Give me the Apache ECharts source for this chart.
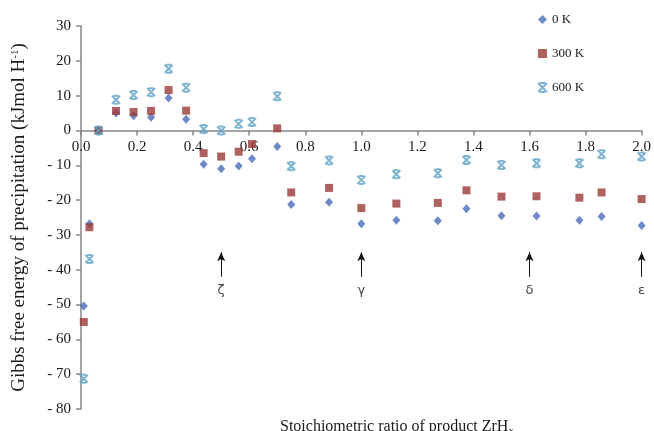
<!DOCTYPE html>
<html>
<head>
<meta charset="utf-8">
<script src="https://cdn.jsdelivr.net/npm/echarts@6/dist/echarts.min.js"></script>
<style>
  html, body { margin: 0; padding: 0; background: #ffffff; }
  #chart { width: 654px; height: 431px; }
</style>
</head>
<body>
<div id="chart"></div>
<script>
// Stoichiometric ratio x of the ZrHx product
const ratios = [0.01, 0.03, 0.0625, 0.125, 0.1875, 0.25, 0.3125, 0.375, 0.4375, 0.5,
  0.5625, 0.61, 0.7, 0.75, 0.885, 1.0, 1.125, 1.273, 1.375, 1.5, 1.625, 1.778, 1.857, 2.0];

// Gibbs free energy of precipitation (kJ/mol H) at each temperature
const g0K = [-50.4, -26.8, 0, 5.0, 4.2, 3.8, 9.3, 3.2, -9.7, -11.0,
  -10.2, -8.1, -4.6, -21.3, -20.6, -26.8, -25.8, -25.9, -22.5, -24.5, -24.6, -25.8, -24.7, -27.3];
const g300K = [-55.0, -27.8, 0, 5.6, 5.3, 5.6, 11.6, 5.7, -6.5, -7.5,
  -6.1, -3.9, 0.6, -17.8, -16.5, -22.3, -21.0, -20.8, -17.2, -19.0, -18.9, -19.3, -17.8, -19.7];
const g600K = [-71.3, -36.9, 0, 8.8, 10.2, 11.0, 17.7, 12.3, 0.4, 0,
  1.9, 2.4, 9.8, -10.3, -8.6, -14.2, -12.6, -12.3, -8.5, -9.9, -9.4, -9.4, -6.8, -7.5];

const seriesNames = ['0 K', '300 K', '600 K'];

// Hydride phases marked with arrows
const phaseNames = ['ζ', 'γ', 'δ', 'ε'];
const phaseRatios = [0.5, 1.0, 1.6, 2.0];
const arrowFrom = -42;
const arrowTo = -35;
const phaseLabelY = -46;

// Axis ranges
const yMin = -80, yMax = 30, yStep = 10;
const xMin = 0, xMax = 2, xStep = 0.2;

const gridTop = 26, gridBottom = 22, chartHeight = 431;
const plotHeight = chartHeight - gridTop - gridBottom;
// the ratio axis crosses the energy axis at zero
const zeroOffset = -(0 - yMin) / (yMax - yMin) * plotHeight;

const colors = ['#4a6cba', '#9b3a38', '#5ea1c4'];
const starPath = 'path://M2,0L8,0M2,10L8,10M0,0L10,10M10,0L0,10';
const serif = '"Liberation Serif", "DejaVu Serif", serif';

const pairs = ys => ratios.map((x, i) => [x, ys[i]]);

const chart = echarts.init(document.getElementById('chart'), null, { renderer: 'canvas' });

chart.setOption({
  animation: false,
  backgroundColor: '#ffffff',
  grid: { left: 81, right: 10, top: gridTop, bottom: gridBottom, containLabel: false },
  title: {
    text: '{a|Stoichiometric ratio of product ZrH}{s|x}',
    left: 275,
    top: 413,
    textStyle: {
      fontWeight: 'normal',
      rich: {
        a: { fontFamily: serif, fontSize: 16, fontWeight: 'normal', color: '#1a1a1a' },
        s: { fontFamily: serif, fontSize: 10, fontWeight: 'normal', color: '#1a1a1a', padding: [8, 0, 0, 0] }
      }
    }
  },
  legend: {
    orient: 'vertical',
    left: 532,
    top: 8,
    itemWidth: 9,
    itemHeight: 9,
    itemGap: 21,
    itemTextGap: 6,
    textStyle: { fontFamily: serif, fontSize: 13, color: '#1a1a1a' },
    data: [
      { name: seriesNames[0], icon: 'diamond' },
      { name: seriesNames[1], icon: 'rect' },
      { name: seriesNames[2], icon: starPath }
    ]
  },
  xAxis: {
    type: 'value',
    min: xMin,
    max: xMax,
    interval: xStep,
    position: 'bottom',
    offset: zeroOffset,
    axisLine: { onZero: false, lineStyle: { color: '#868686', width: 1.5 } },
    axisTick: { show: true, length: 5, lineStyle: { color: '#868686', width: 1.5 } },
    axisLabel: {
      margin: 9,
      fontFamily: serif,
      fontSize: 15,
      color: '#1a1a1a',
      formatter: v => v.toFixed(1)
    },
    splitLine: { show: false }
  },
  yAxis: {
    type: 'value',
    min: yMin,
    max: yMax,
    interval: yStep,
    name: '{a|Gibbs free energy of precipitation (kJmol H}{s|-1}{a|)}',
    nameLocation: 'middle',
    nameRotate: 90,
    nameGap: 52,
    nameTextStyle: {
      rich: {
        a: { fontFamily: serif, fontSize: 19, color: '#1a1a1a' },
        s: { fontFamily: serif, fontSize: 11, color: '#1a1a1a', padding: [0, 0, 8, 0] }
      }
    },
    axisLine: { show: true, lineStyle: { color: '#868686', width: 1.5 } },
    axisTick: { show: true, length: 5, lineStyle: { color: '#868686', width: 1.5 } },
    axisLabel: {
      margin: 10,
      fontFamily: serif,
      fontSize: 15,
      color: '#1a1a1a',
      formatter: v => (v < 0 ? '- ' + (-v) : String(v))
    },
    splitLine: { show: false }
  },
  series: [
    {
      name: seriesNames[0],
      type: 'scatter',
      symbol: 'diamond',
      symbolSize: [8, 9],
      itemStyle: { color: colors[0] },
      data: pairs(g0K),
      z: 3
    },
    {
      name: seriesNames[1],
      type: 'scatter',
      symbol: 'rect',
      symbolSize: 8,
      itemStyle: { color: colors[1] },
      data: pairs(g300K),
      z: 4
    },
    {
      name: seriesNames[2],
      type: 'scatter',
      symbol: starPath,
      symbolSize: 8,
      itemStyle: { color: 'rgba(0,0,0,0)', borderColor: colors[2], borderWidth: 2 },
      data: pairs(g600K),
      z: 5
    },
    {
      name: 'phases',
      type: 'scatter',
      symbol: 'circle',
      symbolSize: 1,
      silent: true,
      itemStyle: { color: 'rgba(0,0,0,0)' },
      data: phaseRatios.map((x, i) => ({ value: [x, phaseLabelY], name: phaseNames[i] })),
      label: {
        show: true,
        position: 'inside',
        formatter: p => p.name,
        fontFamily: '"DejaVu Sans", sans-serif',
        fontSize: 13,
        color: '#111'
      },
      markLine: {
        silent: true,
        symbol: ['none', 'arrow'],
        symbolSize: [6, 9],
        label: { show: false },
        lineStyle: { color: '#111', width: 1, type: 'solid' },
        data: phaseRatios.map(x => [{ coord: [x, arrowFrom] }, { coord: [x, arrowTo] }])
      }
    }
  ]
});
</script>
</body>
</html>
